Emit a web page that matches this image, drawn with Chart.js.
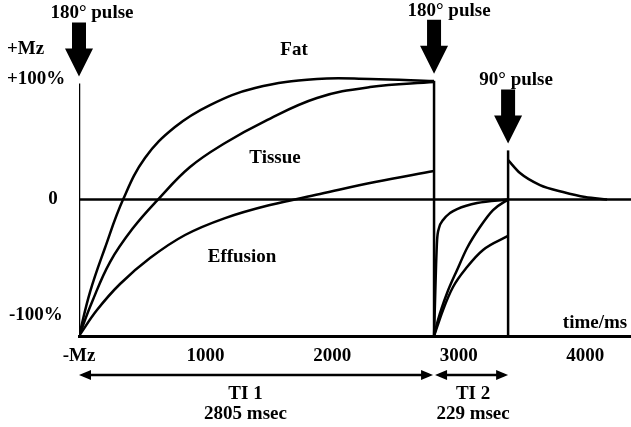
<!DOCTYPE html>
<html>
<head>
<meta charset="utf-8">
<script src="https://cdn.jsdelivr.net/npm/chart.js@4/dist/chart.umd.min.js"></script>
<style>
  html, body { margin: 0; padding: 0; background: #fff; }
  #wrap { width: 631px; height: 427px; }
</style>
</head>
<body>
<div id="wrap"><canvas id="c"></canvas></div>
<script>
// time in ms, magnetisation in %
var xTickValues = [0, 1000, 2000, 3000, 4000];
var xTickLabels = ['-Mz', '1000', '2000', '3000', '4000'];
var yTickValues = [110, 88, 0, -85];
var yTickLabels = ['+Mz', '+100%', '0', '-100%'];

var pulseTimes = [0, 2805, 3390];
var pulseTops = [85, 87, 36];
var pulseLabels = ['180° pulse', '180° pulse', '90° pulse'];

var curveNames = ['Fat', 'Tissue', 'Effusion'];
var intervalLabels = ['TI 1', 'TI 2'];
var intervalTimes = ['2805 msec', '229 msec'];

// first inversion recovery
var fatT = [0, 87, 205, 348, 521, 758, 1035, 1391, 1880, 2299, 2805];
var fatM = [-100, -67.8, -35.5, 0, 30.4, 53.1, 69.2, 81.7, 88.3, 88.3, 86.8];
var tissueT = [0, 103, 245, 427, 624, 877, 1154, 1470, 1880, 2299, 2805];
var tissueM = [-100, -75.1, -45.8, -20.9, 0, 23.8, 41.4, 57.5, 74.4, 82.4, 86.1];
var effusionT = [0, 142, 324, 561, 838, 1154, 1509, 1904, 2339, 2805];
var effusionM = [-100, -81, -61.9, -42.9, -26, -13.6, -4, 4, 12.8, 20.9];

// second inversion recovery
var fat2T = [2805, 2813, 2821, 2829, 2844, 2876, 2931, 2987, 3145, 3390];
var fat2M = [-100, -73.6, -48, -29.7, -20.9, -15, -9.9, -7, -2.6, 0];
var tissue2T = [2805, 2836, 2908, 2987, 3066, 3168, 3271, 3390];
var tissue2M = [-100, -88.3, -68.5, -51.6, -35.5, -20.1, -7.7, 0];
var effusion2T = [2805, 2876, 2955, 3066, 3192, 3390];
var effusion2M = [-100, -80.9, -64.1, -49.5, -37, -26.7];

// signal after the 90 degree pulse
var signalT = [3390, 3484, 3642, 3824, 3998, 4172];
var signalM = [28.9, 19.4, 10.6, 5.5, 1.8, 0];

var FONT = 'bold 19px "Liberation Serif", "Times New Roman", serif';

function pts(xs, ys) {
  return xs.map(function (x, i) { return {x: x, y: ys[i]}; });
}

function curve(xs, ys, smooth) {
  var ds = {data: pts(xs, ys), borderColor: '#000', borderWidth: 2.5, pointRadius: 0, fill: false};
  if (smooth) ds.tension = 0.4;
  else ds.cubicInterpolationMode = 'monotone';
  return ds;
}

function straight(data) {
  return {data: data, borderColor: '#000', borderWidth: 2.5, pointRadius: 0, fill: false, tension: 0};
}

var datasets = [
  curve(fatT, fatM, true), curve(tissueT, tissueM, true), curve(effusionT, effusionM, true),
  curve(fat2T, fat2M), curve(tissue2T, tissue2M), curve(effusion2T, effusion2M),
  curve(signalT, signalM),
  straight([{x: 0, y: 0}, {x: 4361, y: 0}])
];
pulseTimes.forEach(function (t, i) {
  datasets.push(straight([{x: t, y: -100}, {x: t, y: pulseTops[i]}]));
});

function downArrow(ctx, x, tip) {
  var sw = 7, hw = 14, hh = 28, sh = 26;
  ctx.beginPath();
  ctx.moveTo(x - sw, tip - hh - sh);
  ctx.lineTo(x + sw, tip - hh - sh);
  ctx.lineTo(x + sw, tip - hh);
  ctx.lineTo(x + hw, tip - hh);
  ctx.lineTo(x, tip);
  ctx.lineTo(x - hw, tip - hh);
  ctx.lineTo(x - sw, tip - hh);
  ctx.closePath();
  ctx.fill();
}

function spanArrow(ctx, x1, x2, y) {
  var hl = 12, hh = 5;
  ctx.lineWidth = 2.5;
  ctx.beginPath();
  ctx.moveTo(x1 + 4, y);
  ctx.lineTo(x2 - 4, y);
  ctx.stroke();
  ctx.beginPath();
  ctx.moveTo(x1, y); ctx.lineTo(x1 + hl, y - hh); ctx.lineTo(x1 + hl, y + hh); ctx.closePath();
  ctx.fill();
  ctx.beginPath();
  ctx.moveTo(x2, y); ctx.lineTo(x2 - hl, y - hh); ctx.lineTo(x2 - hl, y + hh); ctx.closePath();
  ctx.fill();
}

var annotations = {
  id: 'annotations',
  afterDraw: function (chart) {
    var ctx = chart.ctx;
    var xs = chart.scales.x, ys = chart.scales.y;
    ctx.save();
    ctx.fillStyle = '#000';
    ctx.strokeStyle = '#000';
    ctx.font = FONT;
    ctx.textBaseline = 'middle';

    // y labels
    var yLabelX = [7, 7, 53, 9];
    yTickValues.forEach(function (v, i) {
      ctx.textAlign = i === 2 ? 'center' : 'left';
      ctx.fillText(yTickLabels[i], yLabelX[i], ys.getPixelForValue(v));
    });

    // pulse arrows
    var labelShift = [13, 15, 8];
    pulseTimes.forEach(function (t, i) {
      var px = xs.getPixelForValue(t);
      var tip = ys.getPixelForValue(pulseTops[i]) - 7;
      downArrow(ctx, px, tip);
      ctx.textAlign = 'center';
      ctx.fillText(pulseLabels[i], px + labelShift[i], tip - 63);
    });

    // curve names
    var namePos = [[1699, 109.5], [1549, 30.4], [1288, -42.1]];
    ctx.textAlign = 'center';
    curveNames.forEach(function (n, i) {
      ctx.fillText(n, xs.getPixelForValue(namePos[i][0]), ys.getPixelForValue(namePos[i][1]));
    });
    ctx.fillText('time/ms', xs.getPixelForValue(4077), ys.getPixelForValue(-90.5));

    // inversion times
    var x0 = xs.getPixelForValue(0), x1 = xs.getPixelForValue(2805), x2 = xs.getPixelForValue(3390);
    spanArrow(ctx, x0, x1 - 1, 375);
    spanArrow(ctx, x1 + 1, x2, 375);
    var mids = [(x0 + x1) / 2 - 11, (x1 + x2) / 2 + 2];
    intervalLabels.forEach(function (l, i) {
      ctx.fillText(l, mids[i], 394);
      ctx.fillText(intervalTimes[i], mids[i], 414);
    });
    ctx.restore();
  }
};

new Chart(document.getElementById('c'), {
  type: 'line',
  data: {datasets: datasets},
  options: {
    responsive: true,
    maintainAspectRatio: false,
    animation: false,
    layout: {padding: 0},
    plugins: {legend: {display: false}, tooltip: {enabled: false}},
    scales: {
      x: {
        type: 'linear',
        min: 0,
        max: 4361,
        grid: {display: false},
        border: {display: true, color: '#000', width: 3},
        ticks: {
          color: '#000',
          font: {family: '"Liberation Serif", "Times New Roman", serif', size: 19, weight: 'bold'},
          padding: 1,
          maxRotation: 0,
          callback: function (v) {
            var i = xTickValues.indexOf(v);
            return i >= 0 ? xTickLabels[i] : '';
          }
        },
        afterBuildTicks: function (axis) {
          axis.ticks = xTickValues.map(function (v) { return {value: v}; });
        },
        afterFit: function (axis) { axis.height = 91; }
      },
      y: {
        type: 'linear',
        min: -100,
        max: 146.2,
        grid: {display: false},
        border: {display: false},
        ticks: {display: false},
        afterFit: function (axis) { axis.width = 79; }
      }
    }
  },
  plugins: [annotations]
});
</script>
</body>
</html>
